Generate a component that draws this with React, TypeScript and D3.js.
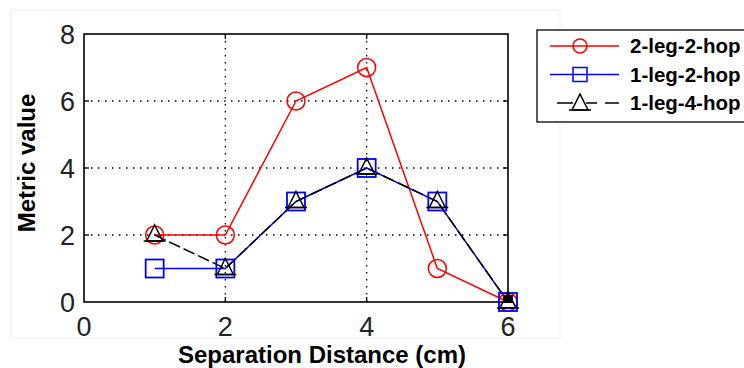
import React from "react";
import * as d3 from "d3";

const xValues = [1, 2, 3, 4, 5, 6];
const series2leg2hop = [2, 2, 6, 7, 1, 0];
const series1leg2hop = [1, 1, 3, 4, 3, 0];
const series1leg4hop = [2, 1, 3, 4, 3, 0];
const xTicks = [0, 2, 4, 6];
const yTicks = [0, 2, 4, 6, 8];
const gridX = [2, 4];
const gridY = [2, 4, 6];
const legendLabels = ["2-leg-2-hop", "1-leg-2-hop", "1-leg-4-hop"];

const W = 744, H = 368;
const L = 84, R = 508, T = 34, B = 302;

export default function App() {
  const x = d3.scaleLinear().domain([0, 6]).range([L, R]);
  const y = d3.scaleLinear().domain([0, 8]).range([B, T]);
  const line = d3.line<[number, number]>().x(d => x(d[0])).y(d => y(d[1]));
  const pts = (vals: number[]) => xValues.map((v, i) => [v, vals[i]] as [number, number]);

  const circle = (cx: number, cy: number, k: string) => (
    <circle key={k} cx={cx} cy={cy} r={9} fill="none" stroke="#ff0000" strokeWidth={1.5} />
  );
  const square = (cx: number, cy: number, k: string) => (
    <rect key={k} x={cx - 9} y={cy - 9} width={18} height={18} fill="none" stroke="#0000ff" strokeWidth={1.8} />
  );
  const tri = (cx: number, cy: number, k: string) => (
    <g key={k}>
      <path d={`M${cx},${cy - 10} L${cx + 8},${cy + 6} L${cx - 8},${cy + 6} Z`} fill="none" stroke="#000" strokeWidth={1.5} />
      <line x1={cx - 11} x2={cx + 11} y1={cy + 6} y2={cy + 6} stroke="#000" strokeWidth={1.5} />
    </g>
  );

  const legendRows = [
    { color: "#ff0000", dash: undefined as string | undefined },
    { color: "#0000ff", dash: undefined },
    { color: "#000000", dash: "16 12" },
  ];

  return (
    <svg width={W} height={H} style={{ position: "absolute", left: 0, top: 0, background: "#fff" }}>
      <rect x={11} y={10} width={549} height={328} fill="none" stroke="#ececec" strokeWidth={1} />
      {gridX.map(g => (
        <line key={"gx" + g} x1={x(g)} x2={x(g)} y1={T} y2={B} stroke="#000" strokeWidth={1.3} strokeDasharray="1.5 5.5" />
      ))}
      {gridY.map(g => (
        <line key={"gy" + g} x1={L} x2={R} y1={y(g)} y2={y(g)} stroke="#000" strokeWidth={1.3} strokeDasharray="1.5 5.5" />
      ))}
      {gridX.map(g => (
        <g key={"tx" + g}>
          <line x1={x(g)} x2={x(g)} y1={B} y2={B - 5} stroke="#000" strokeWidth={1.3} />
          <line x1={x(g)} x2={x(g)} y1={T} y2={T + 5} stroke="#000" strokeWidth={1.3} />
        </g>
      ))}
      {gridY.map(g => (
        <g key={"ty" + g}>
          <line x1={L} x2={L + 5} y1={y(g)} y2={y(g)} stroke="#000" strokeWidth={1.3} />
          <line x1={R} x2={R - 5} y1={y(g)} y2={y(g)} stroke="#000" strokeWidth={1.3} />
        </g>
      ))}
      <rect x={L} y={T} width={R - L} height={B - T} fill="none" stroke="#000" strokeWidth={1.6} />
      <path d={line(pts(series2leg2hop)) || ""} fill="none" stroke="#ff0000" strokeWidth={1.5} />
      <path d={line(pts(series1leg2hop)) || ""} fill="none" stroke="#0000ff" strokeWidth={1.5} />
      <path d={line(pts(series1leg4hop)) || ""} fill="none" stroke="#000" strokeWidth={1.5} strokeDasharray="12 4" />
      {pts(series2leg2hop).map((p, i) => circle(x(p[0]), y(p[1]), "c" + i))}
      {pts(series1leg2hop).map((p, i) => square(x(p[0]), y(p[1]), "s" + i))}
      {pts(series1leg4hop).map((p, i) => tri(x(p[0]), y(p[1]), "t" + i))}
      <rect x={x(6) - 5} y={y(0) - 7} width={10} height={8} fill="#000" />
      {yTicks.map(t => (
        <text key={"yl" + t} x={75} y={y(t)} dy="0.36em" textAnchor="end" fontFamily="Liberation Sans, Arial, sans-serif" fontSize={27} fill="#222" fontWeight={300}>{t}</text>
      ))}
      {xTicks.map(t => (
        <text key={"xl" + t} x={x(t)} y={336} textAnchor="middle" fontFamily="Liberation Sans, Arial, sans-serif" fontSize={27} fill="#222" fontWeight={300}>{t}</text>
      ))}
      <text x={322} y={363} textAnchor="middle" fontFamily="Liberation Sans, Arial, sans-serif" fontSize={24} fontWeight="bold" fill="#000">Separation Distance (cm)</text>
      <text transform={`translate(35,163) rotate(-90)`} textAnchor="middle" fontFamily="Liberation Sans, Arial, sans-serif" fontSize={24} fontWeight="bold" fill="#000">Metric value</text>
      <rect x={537} y={30} width={220} height={92} fill="#fff" stroke="#000" strokeWidth={1.3} />
      {legendLabels.map((lab, i) => {
        const cy = 46 + i * 28.5;
        const r = legendRows[i];
        return (
          <g key={"lg" + i}>
            {r.dash ? (
              <g>
                <line x1={557} x2={573} y1={cy} y2={cy} stroke={r.color} strokeWidth={1.5} />
                <line x1={586} x2={597} y1={cy} y2={cy} stroke={r.color} strokeWidth={1.5} />
                <line x1={605} x2={619} y1={cy} y2={cy} stroke={r.color} strokeWidth={1.5} />
              </g>
            ) : (
              <line x1={550} x2={619} y1={cy} y2={cy} stroke={r.color} strokeWidth={1.5} />
            )}
            {i === 2 ? tri(580, cy + 1, "lt") : i === 0 ? <circle cx={580} cy={cy} r={7} fill="none" stroke="#ff0000" strokeWidth={1.5} /> : <rect x={573} y={cy - 7} width={14} height={14} fill="none" stroke="#0000ff" strokeWidth={1.5} />}
            <text x={630} y={cy} dy="0.36em" fontFamily="Liberation Sans, Arial, sans-serif" fontSize={20.5} fontWeight="bold" fill="#000">{lab}</text>
          </g>
        );
      })}
    </svg>
  );
}
